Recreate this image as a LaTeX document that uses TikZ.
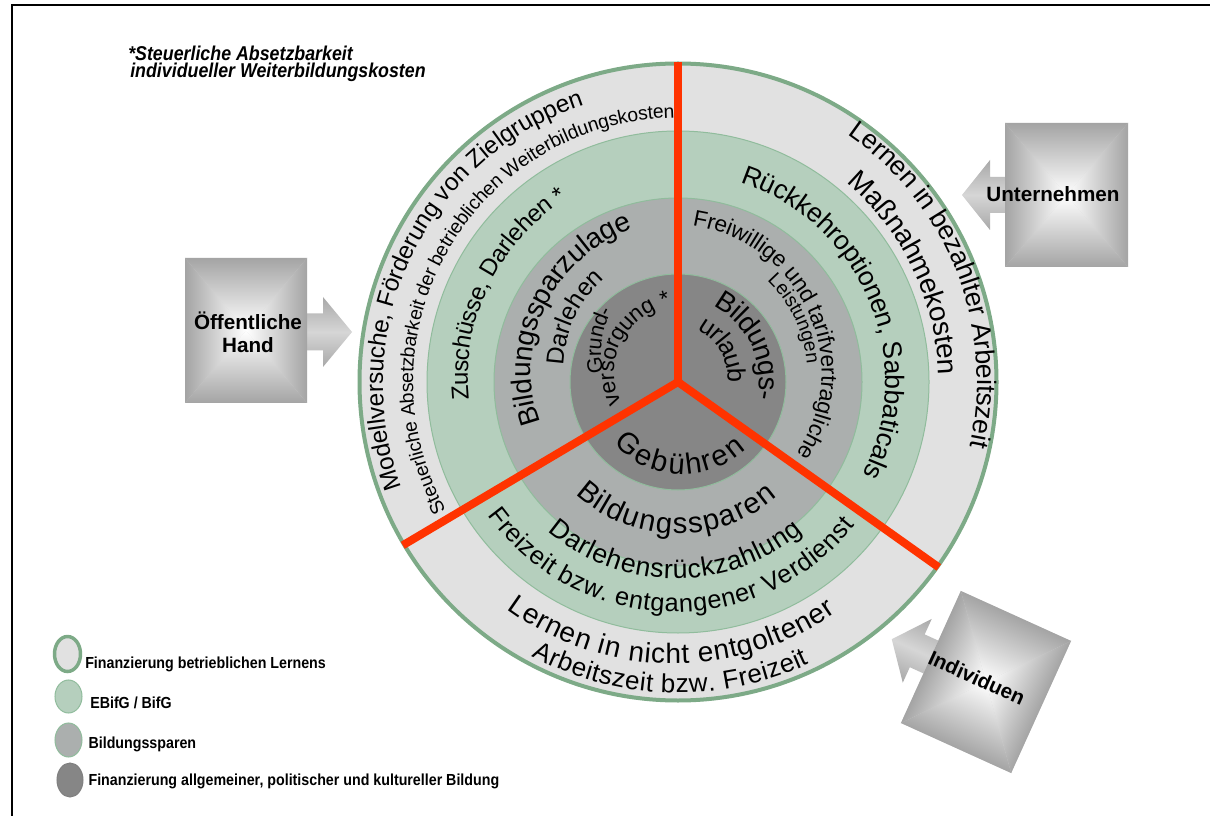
\documentclass[tikz,border=0pt]{standalone}
\usepackage{fontspec}
\setmainfont{Liberation Sans}
\newfontfamily\narrowfont[FakeStretch=0.89]{Liberation Sans}
\usetikzlibrary{decorations.text}

\definecolor{ringouter}{HTML}{E1E1E1}
\definecolor{ringgreen}{HTML}{B5CFBD}
\definecolor{ringmid}{HTML}{ABAFAE}
\definecolor{ringinner}{HTML}{868686}
\definecolor{bordergreen}{HTML}{7DAA87}
\definecolor{thingreen}{HTML}{90BC9C}
\definecolor{redbarcol}{HTML}{FF3300}
\definecolor{boxgray}{HTML}{A4A4A4}
\definecolor{arrgray}{HTML}{A8A8A8}
\definecolor{arrlight}{HTML}{D6D6D6}

% #1 size, #2 start angle, #3 start radius, #4 end angle, #5 end radius, #6 text, #7 raise
\newcommand\ringtext[7]{%
  \path[decorate,decoration={text along path,text align=fit to path,raise=#7,
      text={|\fontsize{#1}{#1}\selectfont|#6}}]
    plot[domain=0:1,samples=120,variable=\t]
    ({678+(#3+(#5-#3)*\t)*cos(#2+(#4-#2)*\t)},{382-(#3+(#5-#3)*\t)*sin(#2+(#4-#2)*\t)});}

% rectangular gradient box: x0 y0 x1 y1
\newcommand\gradbox[4]{%
  \fill[arrlight] (#1,#2) rectangle (#3,#4);
  \shade[top color=boxgray,bottom color=white] (#1,#2) -- (#3,#2) -- ({(#1+#3)/2},{(#2+#4)/2}) -- cycle;
  \shade[top color=white,bottom color=boxgray] (#1,#4) -- (#3,#4) -- ({(#1+#3)/2},{(#2+#4)/2}) -- cycle;
  \shade[left color=boxgray,right color=white] (#1,#2) -- (#1,#4) -- ({(#1+#3)/2},{(#2+#4)/2}) -- cycle;
  \shade[left color=white,right color=boxgray] (#3,#2) -- (#3,#4) -- ({(#1+#3)/2},{(#2+#4)/2}) -- cycle;}

\tikzset{
  redbar/.style={draw=redbarcol,line width=6pt},
  thinring/.style={draw=thingreen,line width=0.75pt},
  arrowshade/.style={top color=arrgray,bottom color=arrgray,middle color=arrlight},
  boxlabel/.style={font=\bfseries\fontsize{15.5pt}{17pt}\selectfont,align=center,inner sep=0pt},
  legendtext/.style={font=\narrowfont\bfseries\fontsize{12pt}{14pt}\selectfont,anchor=base west,inner sep=0pt},
  notetext/.style={font=\narrowfont\bfseries\itshape\fontsize{15pt}{17pt}\selectfont,anchor=base west,inner sep=0pt},
}

\begin{document}
\begin{tikzpicture}[x=0.75pt,y=-0.75pt]
\useasboundingbox (0,0) rectangle (1210,816);
\fill[white] (0,0) rectangle (1210,816);
\draw[line width=1.5pt] (12,816) -- (12,5) -- (1210,5);

% note
\node[notetext] (note1) at (128,61) {*Steuerliche Absetzbarkeit};
\node[notetext] (note2) at (130,77.6) {individueller Weiterbildungskosten};

% rings
\coordinate (C) at (678,382);
\fill[ringouter] (C) circle[radius=320];
\draw[thinring,fill=ringgreen] (C) circle[radius=251];
\draw[thinring,fill=ringmid] (C) circle[radius=184];
\draw[thinring,fill=ringinner] (C) circle[radius=108];
\draw[bordergreen,line width=3pt] (C) circle[radius=318.5];

% red dividers
\coordinate (RT) at (678,62);
\coordinate (RL) at (402.8,545.3);
\coordinate (RR) at (938.8,567.4);
\draw[redbar] (RT) -- (C);
\draw[redbar] (RL) -- (C);
\draw[redbar] (RR) -- (C);
\fill[redbarcol] (C) circle[radius=5];

% ring texts
\ringtext{18.3pt}{200.8}{303}{108.6}{300}{Modellversuche, Förderung von Zielgruppen}{-5.5pt}
\ringtext{14.5pt}{208.9}{271}{90.6}{270}{Steuerliche Absetzbarkeit der betrieblichen Weiterbildungskosten}{-4.4pt}
\ringtext{18pt}{184.8}{217}{122.4}{221}{Zuschüsse, Darlehen *}{-5.4pt}
\ringtext{20pt}{72.6}{217}{-26.7}{215}{Rückkehroptionen, Sabbaticals}{-6pt}
\ringtext{20pt}{55.6}{308}{-12.5}{307}{Lernen in bezahlter Arbeitszeit}{-6pt}
\ringtext{21pt}{49.7}{269}{1.5}{269}{Maßnahmekosten}{-6.3pt}
\ringtext{21pt}{196.5}{152}{106.6}{168.5}{Bildungssparzulage}{-6.3pt}
\ringtext{18.5pt}{172}{123}{126}{134}{Darlehen}{-5.5pt}
\ringtext{16pt}{174}{81}{134}{103}{Grund-}{-4.8pt}
\ringtext{17pt}{200}{67}{96}{84}{versorgung *}{-5.1pt}
\ringtext{21pt}{64.6}{92}{-11.8}{89}{Bildungs-}{-6.3pt}
\ringtext{19pt}{67.8}{63}{-0.8}{57}{urlaub}{-5.7pt}
\ringtext{22pt}{223}{80}{316}{87}{Gebühren}{-6.6pt}
\ringtext{22pt}{227.2}{143}{311.2}{143}{Bildungssparen}{-6.6pt}
\ringtext{20pt}{228.7}{190}{309.9}{187}{Darlehensrückzahlung}{-6pt}
\ringtext{19pt}{214.9}{225}{321.1}{220}{Freizeit bzw. entgangener Verdienst}{-5.7pt}
\ringtext{21pt}{232.9}{276}{304.6}{271}{Lernen in nicht entgoltener}{-6.3pt}
\ringtext{19.5pt}{241.8}{303}{295.1}{303}{Arbeitszeit bzw. Freizeit}{-5.9pt}
\ringtext{17pt}{84.5}{164}{-31.5}{145}{Freiwillige und tarifvertragliche}{-5.1pt}
\ringtext{14.5pt}{48.5}{141}{8}{136}{Leistungen}{-4.4pt}

% Oeffentliche Hand
\shade[arrowshade] (306,313.5) -- (323,313.5) -- (323,297) -- (352,332) -- (323,367) -- (323,350.5) -- (306,350.5) -- cycle;
\gradbox{185}{258}{307}{403}
\node[boxlabel] (oeff) at (248,332) {Öffentliche\\Hand};

% Unternehmen
\shade[arrowshade] (1006,177) -- (990,177) -- (990,160) -- (962,195) -- (990,230) -- (990,213) -- (1006,213) -- cycle;
\gradbox{1005}{123}{1128}{267}
\node[boxlabel] (unt) at (1053,194) {Unternehmen};

% Individuen
\begin{scope}[transform canvas={rotate around={-24.4:(986,682)}}]
\shade[arrowshade] (926.5,664) -- (910.5,664) -- (910.5,647) -- (882.5,682) -- (910.5,717) -- (910.5,700) -- (926.5,700) -- cycle;
\gradbox{925.5}{609.5}{1046.5}{754.5}
\node[boxlabel] (indiv) at (976,682) {Individuen};
\end{scope}

% legend
\draw[bordergreen,line width=2.6pt,fill=ringouter] (67.5,654) ellipse[x radius=13,y radius=17.5];
\draw[thinring,fill=ringgreen] (68.5,696.5) ellipse[x radius=13.5,y radius=16.5];
\draw[thinring,fill=ringmid] (68.5,740) ellipse[x radius=13.5,y radius=17];
\draw[draw=gray,line width=0.75pt,fill=ringinner] (70,780) ellipse[x radius=13,y radius=17];
\node[legendtext] (lg1) at (85,668.4) {Finanzierung betrieblichen Lernens};
\node[legendtext] (lg2) at (90,708.4) {EBifG / BifG};
\node[legendtext] (lg3) at (88.3,748.4) {Bildungssparen};
\node[legendtext] (lg4) at (88.3,785.7) {Finanzierung allgemeiner, politischer und kultureller Bildung};
\end{tikzpicture}
\end{document}
